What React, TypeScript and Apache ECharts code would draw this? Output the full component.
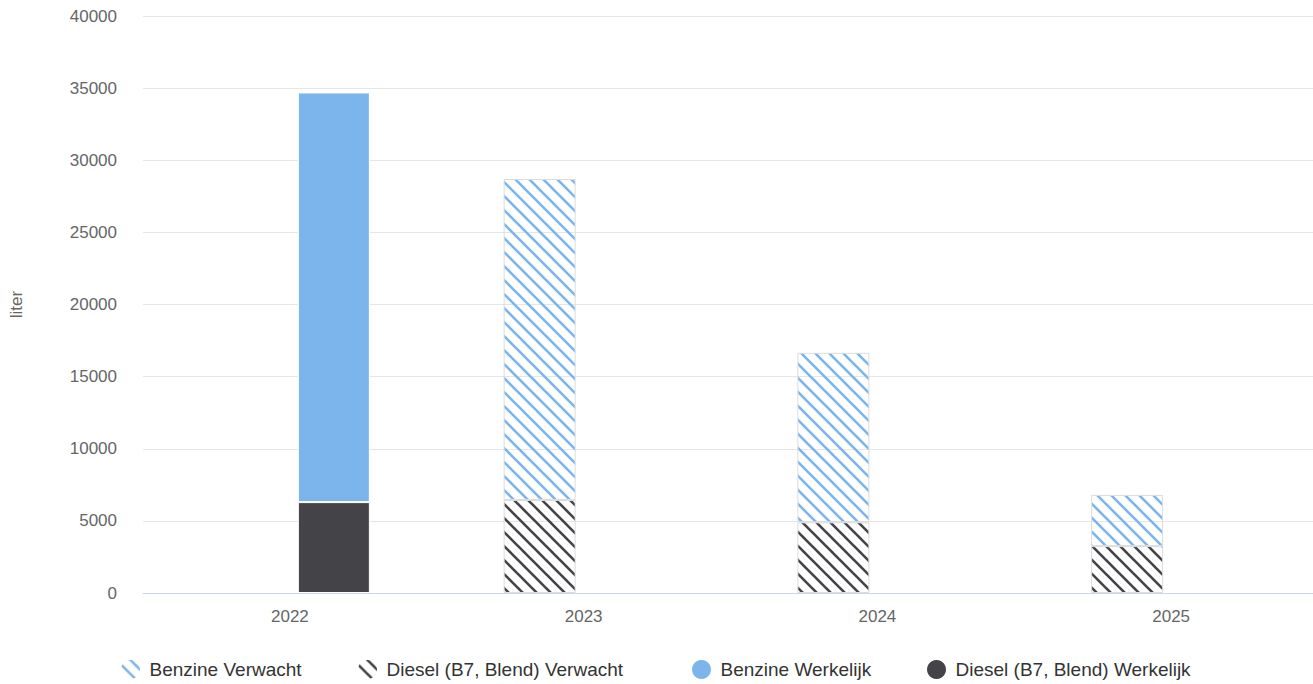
import React, { useEffect, useRef } from "react";
import * as echarts from "echarts";

const years = ["2022", "2023", "2024", "2025"];
const benzineVerwacht = [null, 22250, 11750, 3550];
const dieselVerwacht = [null, 6450, 4900, 3250];
const benzineWerkelijk = [28400, null, null, null];
const dieselWerkelijk = [6300, null, null, null];
const yTicks = { min: 0, max: 40000, interval: 5000 };

const BLUE = "#7cb5ec";
const DARK = "#434348";
const FONT = "'Liberation Sans', Arial, Helvetica, sans-serif";

function makePattern(color: string) {
  const size = 14;
  const c = document.createElement("canvas");
  c.width = size;
  c.height = size;
  const ctx = c.getContext("2d")!;
  ctx.strokeStyle = color;
  ctx.lineWidth = 2.6;
  for (const k of [-size, 0, size]) {
    ctx.beginPath();
    ctx.moveTo(k - 2, -2);
    ctx.lineTo(k + size + 2, size + 2);
    ctx.stroke();
  }
  return { image: c, repeat: "repeat" };
}

export default function App() {
  const ref = useRef<HTMLDivElement>(null);
  useEffect(() => {
    if (!ref.current) return;
    const chart = echarts.init(ref.current, undefined, { renderer: "svg" });
    const blueHatch = makePattern(BLUE);
    const darkHatch = makePattern(DARK);
    const legendBase = {
      top: 655,
      itemWidth: 28,
      itemHeight: 19,
      icon: "circle",
      itemStyle: { borderWidth: 0 },
      textStyle: { color: "#333", fontSize: 19, fontFamily: FONT },
    };
    const names = [
      ["Benzine Verwacht", 116],
      ["Diesel (B7, Blend) Verwacht", 353],
      ["Benzine Werkelijk", 687],
      ["Diesel (B7, Blend) Werkelijk", 922],
    ] as const;
    const option: any = {
      animation: false,
      textStyle: { fontFamily: FONT },
      grid: { left: 143, right: 0, top: 16, bottom: 91, containLabel: false },
      legend: names.map(([n, left]) => ({ ...legendBase, left, data: [n] })),
      xAxis: {
        type: "category",
        data: years,
        axisLine: { show: true, lineStyle: { color: "#ccd6eb", width: 1 } },
        axisTick: { show: false },
        axisLabel: { color: "#666", fontSize: 17, margin: 15, fontFamily: FONT },
        splitLine: { show: false },
      },
      yAxis: {
        type: "value",
        min: yTicks.min,
        max: yTicks.max,
        interval: yTicks.interval,
        name: "liter",
        nameLocation: "middle",
        nameRotate: 90,
        nameGap: 118,
        nameTextStyle: { color: "#666", fontSize: 17, fontFamily: FONT },
        axisLine: { show: false },
        axisTick: { show: false },
        axisLabel: {
          color: "#666",
          fontSize: 17,
          margin: 26,
          fontFamily: FONT,
          formatter: (v: number) => String(v),
        },
        splitLine: { lineStyle: { color: "#e6e6e6", width: 1 } },
      },
      series: [
        {
          name: "Diesel (B7, Blend) Verwacht",
          type: "bar",
          stack: "verwacht",
          data: dieselVerwacht,
          barWidth: 72,
          barGap: "22.2%",
          itemStyle: { color: darkHatch, borderColor: "#dcdcdc", borderWidth: 1 },
        },
        {
          name: "Benzine Verwacht",
          type: "bar",
          stack: "verwacht",
          data: benzineVerwacht,
          barWidth: 72,
          barGap: "22.2%",
          itemStyle: { color: blueHatch, borderColor: "#dcdcdc", borderWidth: 1 },
        },
        {
          name: "Diesel (B7, Blend) Werkelijk",
          type: "bar",
          stack: "werkelijk",
          data: dieselWerkelijk,
          barWidth: 72,
          barGap: "22.2%",
          itemStyle: { color: DARK, borderColor: "#fff", borderWidth: 1 },
        },
        {
          name: "Benzine Werkelijk",
          type: "bar",
          stack: "werkelijk",
          data: benzineWerkelijk,
          barWidth: 72,
          barGap: "22.2%",
          itemStyle: { color: BLUE, borderColor: "#fff", borderWidth: 1 },
        },
      ],
    };
    chart.setOption(option);
    return () => chart.dispose();
  }, []);
  return (
    <div
      style={{
        position: "fixed",
        left: 0,
        top: 0,
        width: 1313,
        height: 684,
        overflow: "hidden",
        background: "#fff",
      }}
    >
      <div ref={ref} style={{ width: 1318, height: 684 }} />
    </div>
  );
}
